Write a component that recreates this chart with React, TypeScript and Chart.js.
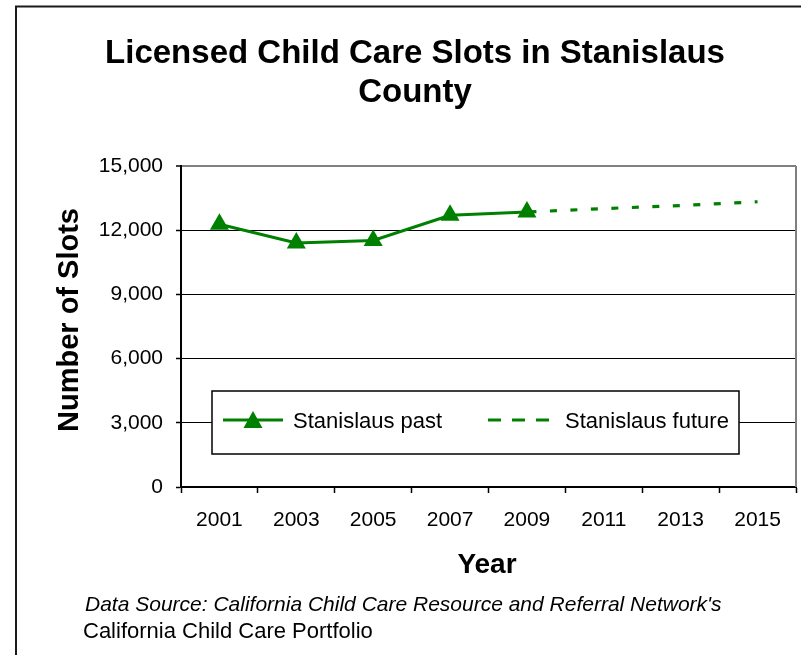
import React, { useEffect, useRef } from 'react';
import { Chart, registerables } from 'chart.js';

Chart.register(...registerables);

const years = ['2001', '2003', '2005', '2007', '2009', '2011', '2013', '2015'];
const pastValues = [12280, 11400, 11520, 12700, 12850, null, null, null];
const futureValues = [null, null, null, null, 12850, 13010, 13150, 13330];
const yMin = 0;
const yMax = 15000;
const yStep = 3000;
const titleLines = ['Licensed Child Care Slots in Stanislaus', 'County'];
const yTitle = 'Number of Slots';
const xTitle = 'Year';
const pastLabel = 'Stanislaus past';
const futureLabel = 'Stanislaus future';
const sourceLine1 = "Data Source: California Child Care Resource and Referral Network's";
const sourceLine2 = 'California Child Care Portfolio';

const FONT = '"Liberation Sans", Arial, Helvetica, sans-serif';
const GREEN = '#008000';

const decorPlugin = {
  id: 'decor',
  beforeDraw(chart: any) {
    const ctx = chart.ctx;
    ctx.save();
    ctx.fillStyle = '#ffffff';
    ctx.fillRect(0, 0, chart.width, chart.height);
    ctx.restore();
  },
  beforeDatasetsDraw(chart: any) {
    const ctx = chart.ctx;
    const a = chart.chartArea;
    ctx.save();
    ctx.strokeStyle = '#808080';
    ctx.lineWidth = 2;
    ctx.beginPath();
    ctx.moveTo(a.right, a.top);
    ctx.lineTo(a.right, a.bottom);
    ctx.stroke();
    ctx.restore();
  },
  afterDraw(chart: any) {
    const ctx = chart.ctx;
    const a = chart.chartArea;
    ctx.save();
    // outer frame
    ctx.strokeStyle = '#1a1a1a';
    ctx.lineWidth = 2;
    ctx.beginPath();
    ctx.moveTo(16, chart.height);
    ctx.lineTo(16, 6.5);
    ctx.lineTo(chart.width, 6.5);
    ctx.stroke();

    // title
    ctx.fillStyle = '#000';
    ctx.textAlign = 'center';
    ctx.textBaseline = 'alphabetic';
    ctx.font = `bold 33px ${FONT}`;
    ctx.fillText(titleLines[0], 415, 63);
    ctx.fillText(titleLines[1], 415, 102);

    // axis titles
    ctx.font = `bold 28px ${FONT}`;
    ctx.fillText(xTitle, 487, 573);
    ctx.save();
    ctx.font = `bold 29px ${FONT}`;
    ctx.translate(78, 320);
    ctx.rotate(-Math.PI / 2);
    ctx.fillText(yTitle, 0, 0);
    ctx.restore();

    // footer
    ctx.textAlign = 'left';
    ctx.font = `italic 21px ${FONT}`;
    ctx.fillText(sourceLine1, 85, 611);
    ctx.font = `22px ${FONT}`;
    ctx.fillText(sourceLine2, 83, 638);

    // legend
    const lx = 212, ly = 391, lw = 527, lh = 63;
    const cy = ly + 29;
    ctx.fillStyle = '#fff';
    ctx.fillRect(lx, ly, lw, lh);
    ctx.strokeStyle = '#000';
    ctx.lineWidth = 1.5;
    ctx.strokeRect(lx, ly, lw, lh);

    ctx.strokeStyle = GREEN;
    ctx.lineWidth = 3;
    ctx.beginPath();
    ctx.moveTo(223, cy);
    ctx.lineTo(283, cy);
    ctx.stroke();
    ctx.fillStyle = GREEN;
    ctx.beginPath();
    ctx.moveTo(253, cy - 9);
    ctx.lineTo(262.5, cy + 8);
    ctx.lineTo(243.5, cy + 8);
    ctx.closePath();
    ctx.fill();

    ctx.setLineDash([13, 11]);
    ctx.beginPath();
    ctx.moveTo(488, cy);
    ctx.lineTo(549, cy);
    ctx.stroke();
    ctx.setLineDash([]);

    ctx.fillStyle = '#000';
    ctx.font = `22px ${FONT}`;
    ctx.textBaseline = 'alphabetic';
    ctx.fillText(pastLabel, 293, cy + 8);
    ctx.fillText(futureLabel, 565, cy + 8);
    ctx.restore();
  },
};

export default function App() {
  const ref = useRef<HTMLCanvasElement | null>(null);

  useEffect(() => {
    if (!ref.current) return;
    Chart.defaults.font.family = FONT;
    const chart = new Chart(ref.current, {
      type: 'line',
      data: {
        labels: years,
        datasets: [
          {
            label: pastLabel,
            data: pastValues,
            borderColor: GREEN,
            backgroundColor: GREEN,
            borderWidth: 3,
            pointStyle: 'triangle',
            pointRadius: 11,
            pointBackgroundColor: GREEN,
            pointBorderColor: GREEN,
            pointBorderWidth: 0,
            tension: 0,
            spanGaps: false,
          },
          {
            label: futureLabel,
            data: futureValues,
            borderColor: GREEN,
            borderWidth: 3.2,
            borderDash: [7, 13.5],
            borderDashOffset: 18,
            borderCapStyle: 'butt',
            pointRadius: 0,
            tension: 0,
            spanGaps: false,
          },
        ],
      },
      options: {
        responsive: false,
        animation: false,
        devicePixelRatio: 1,
        layout: { autoPadding: false, padding: { top: 166, right: 5, bottom: 0, left: 0 } },
        plugins: {
          legend: { display: false },
          title: { display: false },
          tooltip: { enabled: false },
        },
        scales: {
          x: {
            type: 'category',
            offset: true,
            grid: {
              offset: true,
              drawOnChartArea: false,
              drawTicks: true,
              tickLength: 6,
              tickColor: '#000',
              tickWidth: 1.5,
            },
            border: { color: '#000', width: 2 },
            ticks: {
              color: '#000',
              font: { size: 21, family: FONT },
              padding: 15,
              maxRotation: 0,
              autoSkip: false,
            },
            afterFit: (s: any) => {
              s.height = 168;
              s.paddingLeft = 0;
              s.paddingRight = 0;
            },
          },
          y: {
            min: yMin,
            max: yMax,
            grid: {
              color: (c: any) => (c.tick && c.tick.value === yMax ? '#808080' : '#000'),
              lineWidth: (c: any) => (c.tick && c.tick.value === yMax ? 2 : 1),
              tickLength: 5,
              tickColor: '#000',
              tickWidth: 1.5,
            },
            border: { color: '#000', width: 2 },
            ticks: {
              stepSize: yStep,
              color: '#000',
              font: { size: 21, family: FONT },
              padding: 13,
              callback: (v: any) => Number(v).toLocaleString('en-US'),
            },
            afterFit: (s: any) => {
              s.width = 181;
            },
          },
        },
      },
      plugins: [decorPlugin],
    } as any);
    return () => chart.destroy();
  }, []);

  return (
    <div style={{ position: 'absolute', left: 0, top: 0, width: 801, height: 655 }}>
      <canvas ref={ref} width={801} height={655} style={{ display: 'block' }} />
    </div>
  );
}
